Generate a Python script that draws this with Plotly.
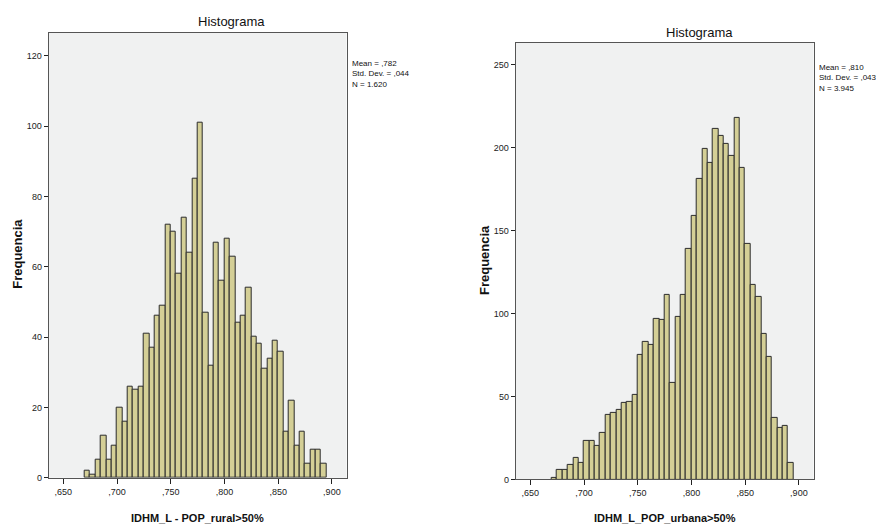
import plotly.graph_objects as go

# Bin left edges (x 1000) and bin width
bin_starts = list(range(670, 895, 5))
bin_width = 5

rural_counts = [2, 1, 5, 12, 5, 9, 20, 16, 26, 25, 26, 41, 37, 46, 49, 72, 70, 58, 74, 64,
                85, 101, 47, 32, 67, 56, 68, 63, 44, 46, 54, 40, 38, 31, 34, 39, 36, 13, 22, 9,
                13, 4, 8, 8, 4]
urbana_counts = [1, 6, 6, 9, 13, 10, 23, 23, 20, 28, 39, 40, 42, 46, 47, 51, 75, 83, 81, 97,
                 96, 111, 58, 98, 111, 139, 159, 181, 199, 191, 211, 207, 202, 195, 218, 188, 142, 117, 110, 88,
                 74, 37, 31, 32, 10]

x_tickvals = [0.65, 0.70, 0.75, 0.80, 0.85, 0.90]
x_ticktext = [",650", ",700", ",750", ",800", ",850", ",900"]
left_yticks = [0, 20, 40, 60, 80, 100, 120]
right_yticks = [0, 50, 100, 150, 200, 250]

title_text = "Histograma"
ylabel = "Frequencia"
left_xlabel = "IDHM_L - POP_rural>50%"
right_xlabel = "IDHM_L_POP_urbana>50%"
left_stats = "Mean = ,782<br>Std. Dev. = ,044<br>N = 1.620"
right_stats = "Mean = ,810<br>Std. Dev. = ,043<br>N = 3.945"

centers = [(s + bin_width / 2) / 1000 for s in bin_starts]
W, H = 876, 531
FONT = "Liberation Sans, Arial, sans-serif"
BAR = "#d4cf96"
EDGE = "#2b2b2b"
BG = "#f0f1f1"
LINE = "#555555"

fig = go.Figure()
fig.add_trace(go.Bar(x=centers, y=rural_counts, width=bin_width / 1000,
                     marker=dict(color=BAR, line=dict(color=EDGE, width=1)),
                     xaxis="x", yaxis="y", showlegend=False))
fig.add_trace(go.Bar(x=centers, y=urbana_counts, width=bin_width / 1000,
                     marker=dict(color=BAR, line=dict(color=EDGE, width=1)),
                     xaxis="x2", yaxis="y2", showlegend=False))

def px_x(p):
    return p / W

def px_y(p):
    return 1 - p / H

xr = [0.6364, 0.9136]
common_x = dict(range=xr, tickvals=x_tickvals, ticktext=x_ticktext, showgrid=False,
                zeroline=False, showline=True, mirror=True, linecolor=LINE, linewidth=1,
                ticks="outside", ticklen=5, tickcolor="#222", tickfont=dict(size=9, color="#222", family=FONT))
common_y = dict(showgrid=False, zeroline=False, showline=True, mirror=True, linecolor=LINE,
                linewidth=1, ticks="outside", ticklen=4, tickcolor="#222",
                tickfont=dict(size=9, color="#222", family=FONT))

fig.update_layout(
    width=W, height=H, margin=dict(l=0, r=0, t=0, b=0),
    paper_bgcolor="white", plot_bgcolor=BG, bargap=0,
    xaxis=dict(domain=[px_x(48.7), px_x(346.5)], anchor="y", **common_x),
    yaxis=dict(domain=[px_y(482.3), px_y(33)], anchor="x", range=[0, 126.6],
               tickvals=left_yticks, **common_y),
    xaxis2=dict(domain=[px_x(515.7), px_x(813.5)], anchor="y2", **common_x),
    yaxis2=dict(domain=[px_y(484), px_y(43.3)], anchor="x2", range=[0, 263.1],
                tickvals=right_yticks, **common_y),
)

ann = []
def add(text, x, y, size, bold=False, xanchor="center", yanchor="middle", angle=0, align="center"):
    ann.append(dict(text=("<b>%s</b>" % text) if bold else text, x=px_x(x), y=px_y(y),
                    xref="paper", yref="paper", showarrow=False, xanchor=xanchor, yanchor=yanchor,
                    textangle=angle, align=align,
                    font=dict(size=size, color="#111", family=FONT)))

add(title_text, 231, 22, 13)
add(title_text, 699, 33, 13)
add(left_stats, 350, 75, 8, xanchor="left", align="left")
add(right_stats, 817, 79, 8, xanchor="left", align="left")
add(left_xlabel, 197, 523, 11, bold=True)
add(right_xlabel, 665, 523, 11, bold=True)

for x, y in [(16.7, 256.5), (484, 262.5)]:
    ann.append(dict(text="<b>%s</b>" % ylabel, x=px_x(x), y=px_y(y), xref="paper", yref="paper",
                    showarrow=False, textangle=-90, xanchor="center", yanchor="middle",
                    font=dict(size=13, color="#111", family=FONT)))

fig.update_layout(annotations=ann)
fig.write_html("out.html")
